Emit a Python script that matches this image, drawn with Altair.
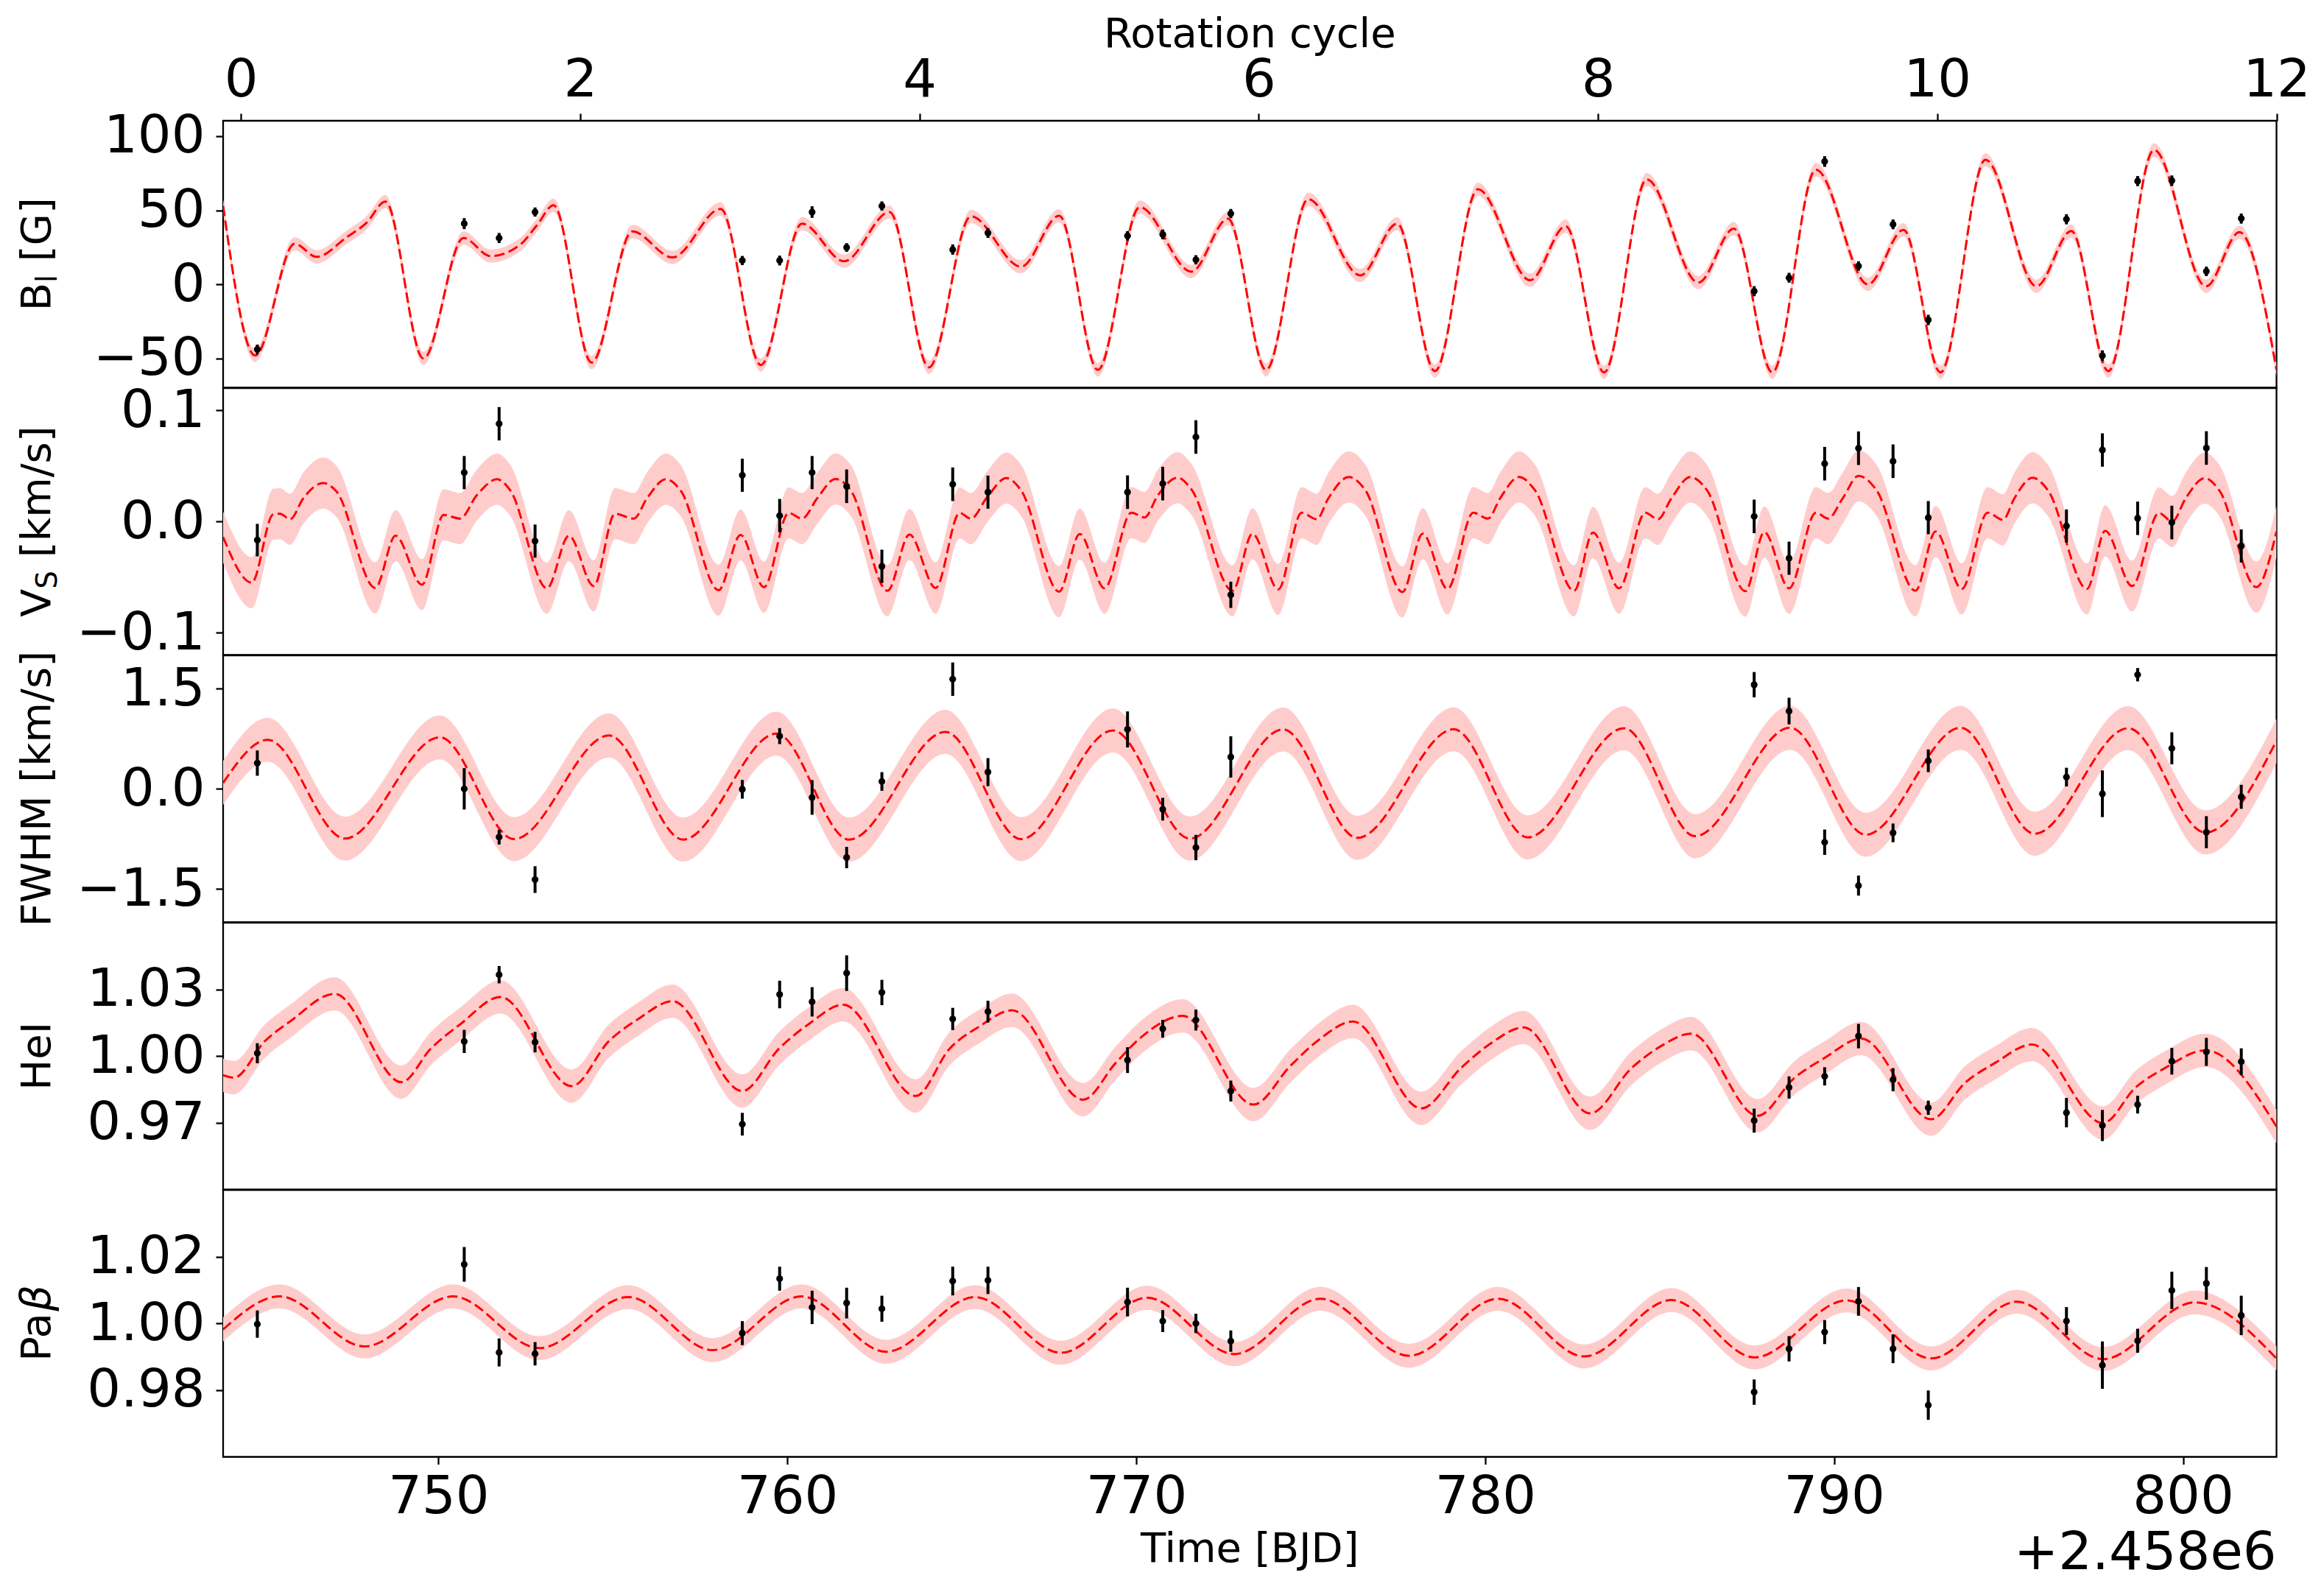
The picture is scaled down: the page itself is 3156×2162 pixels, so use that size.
import altair as alt
import pandas as pd

# ---------------- data ----------------
T_OBS = [744.81, 750.74, 751.74, 752.77, 758.71, 759.78, 760.71, 761.70, 762.71,
         764.74, 765.75, 769.75, 770.76, 771.71, 772.71, 787.71, 788.71, 789.73,
         790.70, 791.69, 792.70, 796.66, 797.69, 798.70, 799.68, 800.67, 801.67]

BL_VAL = [-43.9, 41.0, 31.3, 48.8, 16.1, 16.1, 48.8, 24.9, 52.9, 23.5, 34.7, 32.8, 33.7,
          16.6, 47.8, -4.6, 4.5, 82.9, 12.4, 40.5, -24.0, 43.9, -48.1, 69.7, 70.0, 8.8, 44.4]
BL_ERR = [3.3, 3.7, 3.4, 3.1, 3.1, 3.3, 3.9, 2.9, 3.1, 3.5, 3.3, 3.2, 3.3, 3.1, 3.1,
          3.4, 3.3, 3.6, 3.2, 3.3, 3.5, 3.4, 3.6, 3.4, 3.5, 3.2, 3.4]

VS_VAL = [-0.0167, 0.0440, 0.0879, -0.0176, 0.0416, 0.0053, 0.0440, 0.0317, -0.0403,
          0.0335, 0.0264, 0.0264, 0.0341, 0.0760, -0.0659, 0.0046, -0.0330, 0.0520,
          0.0659, 0.0542, 0.0035, -0.0040, 0.0643, 0.0029, -0.0009, 0.0661, -0.0220]
VS_ERR = [0.0146, 0.0149, 0.0150, 0.0149, 0.0149, 0.0150, 0.0149, 0.0151, 0.0150,
          0.0151, 0.0149, 0.0151, 0.0151, 0.0151, 0.0118, 0.0151, 0.0149, 0.0151,
          0.0151, 0.0151, 0.0149, 0.0149, 0.0150, 0.0150, 0.0151, 0.0151, 0.0149]

FW_VAL = [0.386, 0.0, -0.724, -1.36, -0.007, 0.79, -0.129, -1.03, 0.11, 1.643, 0.25,
          0.89, -0.305, -0.88, 0.478, 1.56, 1.165, -0.80, -1.45, -0.66, 0.42, 0.176,
          -0.074, 1.71, 0.607, -0.65, -0.12]
FW_ERR = [0.19, 0.31, 0.11, 0.20, 0.14, 0.12, 0.26, 0.16, 0.14, 0.25, 0.21, 0.27, 0.17,
          0.19, 0.31, 0.19, 0.20, 0.19, 0.15, 0.14, 0.17, 0.14, 0.35, 0.10, 0.24, 0.24, 0.18]

HE_VAL = [1.0013, 1.0066, 1.0366, 1.0063, 0.9694, 1.0277, 1.0244, 1.0373, 1.0286,
          1.0167, 1.0200, 0.9982, 1.0123, 1.0162, 0.9843, 0.9710, 0.9859, 0.9909,
          1.0090, 0.9894, 0.9768, 0.9746, 0.9688, 0.9782, 0.9977, 1.0019, 0.9975]
HE_ERR = [0.0045, 0.0052, 0.0039, 0.0046, 0.0051, 0.0062, 0.0066, 0.0080, 0.0057,
          0.0050, 0.0049, 0.0058, 0.0040, 0.0047, 0.0047, 0.0054, 0.0050, 0.0041,
          0.0055, 0.0052, 0.0032, 0.0066, 0.0070, 0.0040, 0.0060, 0.0063, 0.0060]

PB_VAL = [0.9998, 1.0177, 0.9913, 0.9909, 0.9971, 1.0134, 1.0048, 1.0061, 1.0044,
          1.0127, 1.0129, 1.0064, 1.0007, 1.0000, 0.9947, 0.9794, 0.9924, 0.9974,
          1.0066, 0.9924, 0.9755, 1.0007, 0.9875, 0.9948, 1.0099, 1.0120, 1.0024]
PB_ERR = [0.0041, 0.0052, 0.0042, 0.0035, 0.0036, 0.0036, 0.0050, 0.0046, 0.0039,
          0.0043, 0.0041, 0.0043, 0.0033, 0.0029, 0.0032, 0.0038, 0.0038, 0.0036,
          0.0043, 0.0043, 0.0044, 0.0042, 0.0071, 0.0036, 0.0056, 0.0049, 0.0059]

# model curves (read at extrema / shape points)
BL_CT = [743.83, 744.75, 745.88, 746.51, 747.37, 747.95, 748.48, 749.57, 750.72, 751.49,
         752.35, 752.83, 753.30, 754.39, 755.56, 756.71, 758.09, 759.24, 760.42, 761.63,
         762.93, 764.06, 765.26, 766.70, 767.79, 768.90, 770.10, 771.58, 772.63, 773.72,
         774.93, 776.42, 777.48, 778.56, 779.79, 781.29, 782.31, 783.41, 784.63, 786.11,
         787.13, 788.23, 789.48, 790.97, 791.99, 793.05, 794.34, 795.80, 796.80, 797.86,
         799.17, 800.66, 801.62, 802.68]
BL_CV = [53.0, -48.0, 27.4, 18.6, 31.8, 41.8, 55.9, -50.0, 31.3, 19.1,
         26.9, 40.1, 53.4, -52.7, 35.7, 18.2, 50.9, -54.4, 41.0, 15.6,
         48.8, -56.0, 45.9, 11.9, 46.3, -57.7, 52.1, 8.6, 44.3, -57.7,
         57.5, 6.1, 41.0, -58.5, 64.2, 2.8, 39.3, -59.4, 70.8, 1.2,
         37.6, -59.4, 77.4, 0.0, 36.8, -59.4, 84.1, -1.3, 36.0, -58.5,
         90.7, -1.3, 35.2, -57.7]

VS_CT = [743.83, 744.65, 745.27, 745.46, 745.75, 746.13, 746.70, 747.08, 748.19, 748.77,
         749.53, 750.15, 750.62, 751.10, 751.68, 752.06, 753.11, 753.74, 754.45, 755.06,
         755.60, 755.98, 756.52, 756.94, 758.03, 758.66, 759.33, 760.04, 760.42, 760.86,
         761.38, 761.82, 762.87, 763.50, 764.25, 764.94, 765.26, 765.74, 766.28, 766.70,
         767.79, 768.38, 769.09, 769.86, 770.24, 770.62, 771.19, 771.58, 772.76, 773.33,
         774.07, 774.74, 775.17, 775.51, 776.09, 776.57, 777.63, 778.21, 778.92, 779.66,
         780.08, 780.43, 780.97, 781.43, 782.55, 783.09, 783.84, 784.59, 784.95, 785.34,
         785.88, 786.36, 787.46, 788.00, 788.71, 789.48, 789.83, 790.25, 790.70, 791.22,
         792.33, 792.91, 793.66, 794.40, 794.84, 795.17, 795.69, 796.13, 797.25, 797.77,
         798.54, 799.31, 799.69, 800.08, 800.62, 801.04, 802.10, 802.68]
VS_CV = [-0.014, -0.055, 0.0066, 0.007, 0.002, 0.021, 0.0346, 0.027, -0.0597, -0.0128,
         -0.0568, 0.006, 0.0026, 0.0236, 0.038, 0.028, -0.060, -0.0128, -0.058, 0.007,
         0.0026, 0.021, 0.038, 0.028, -0.0617, -0.012, -0.059, 0.0077, 0.0026, 0.021,
         0.0383, 0.028, -0.0623, -0.0117, -0.0597, 0.0077, 0.0026, 0.0225, 0.039, 0.028,
         -0.063, -0.0112, -0.060, 0.008, 0.0037, 0.0236, 0.0394, 0.029, -0.0623, -0.011,
         -0.061, 0.008, 0.002, 0.021, 0.040, 0.028, -0.0634, -0.011, -0.0606, 0.008,
         0.0026, 0.021, 0.040, 0.028, -0.0623, -0.010, -0.060, 0.008, 0.002, 0.021,
         0.040, 0.028, -0.0626, -0.0095, -0.060, 0.008, 0.0026, 0.021, 0.041, 0.028,
         -0.0623, -0.009, -0.0606, 0.008, 0.0015, 0.021, 0.0394, 0.028, -0.0606, -0.0084,
         -0.058, 0.0077, 0.000, 0.021, 0.039, 0.028, -0.059, -0.009]

FW_CT = [743.83, 745.11, 747.32, 750.04, 752.17, 754.89, 757.01, 759.69, 761.77, 764.53,
         766.70, 769.33, 771.54, 774.21, 776.34, 779.10, 781.22, 783.98, 786.02, 788.74,
         790.91, 793.63, 795.75, 798.43, 800.64, 802.68]
FW_CV = [0.09, 0.735, -0.746, 0.772, -0.754, 0.80, -0.761, 0.827, -0.761, 0.853,
         -0.754, 0.875, -0.746, 0.89, -0.735, 0.893, -0.728, 0.908, -0.71, 0.915,
         -0.688, 0.915, -0.673, 0.908, -0.654, 0.72]

HE_CT = [743.83, 744.14, 745.03, 745.75, 747.03, 748.94, 749.79, 750.64, 751.78, 753.82,
         754.89, 755.73, 756.71, 758.71, 759.77, 760.62, 761.60, 763.68, 764.66, 765.51,
         766.44, 768.48, 769.41, 770.18, 771.33, 773.36, 774.43, 775.28, 776.21, 778.17,
         779.31, 780.16, 781.10, 783.01, 784.20, 785.05, 785.90, 787.81, 788.87, 789.72,
         790.78, 792.78, 793.76, 794.61, 795.67, 797.71, 798.64, 799.49, 800.64, 802.68]
HE_CV = [0.9914, 0.9903, 1.0068, 1.0156, 1.0280, 0.9883, 1.0035, 1.0145, 1.0266, 0.9865,
         1.0068, 1.0167, 1.0247, 0.9843, 1.0035, 1.0145, 1.0231, 0.9821, 1.0035, 1.0134,
         1.0206, 0.9804, 0.9969, 1.0090, 1.0181, 0.9782, 0.9958, 1.0079, 1.0156, 0.9765,
         0.9947, 1.0057, 1.0129, 0.9743, 0.9947, 1.0046, 1.0101, 0.9732, 0.9903, 0.9991,
         1.0079, 0.9716, 0.9881, 0.9969, 1.0052, 0.9699, 0.9859, 0.9947, 1.0026, 0.9683]

PB_CT = [743.83, 745.45, 747.88, 750.42, 752.89, 755.44, 757.86, 760.41, 762.83, 765.38,
         767.84, 770.31, 772.81, 775.28, 777.82, 780.37, 782.84, 785.34, 787.72, 790.36,
         792.78, 795.24, 797.71, 800.34, 802.68]
PB_CV = [0.9982, 1.0081, 0.9931, 1.0081, 0.9926, 1.0079, 0.9920, 1.0081, 0.9915, 1.0079,
         0.9912, 1.0077, 0.9908, 1.0074, 0.9903, 1.0074, 0.9901, 1.0070, 0.9898, 1.0069,
         0.9895, 1.0065, 0.9893, 1.0063, 0.9895]

BAND_HALF = [4.5, 0.023, 0.33, 0.0075, 0.0036]

X_DOMAIN = [743.83, 802.68]
X_TICKS = [750, 760, 770, 780, 790, 800]
CYC_DOMAIN = [-0.105, 12.0]
CYC_TICKS = [0, 2, 4, 6, 8, 10, 12]

Y_DOMAINS = [[-69.7, 110.4], [-0.12, 0.12], [-2.0, 2.0], [0.940, 1.060], [0.960, 1.040]]
Y_TICKS = [[-50, 0, 50, 100], [-0.1, 0.0, 0.1], [-1.5, 0.0, 1.5], [0.97, 1.00, 1.03],
           [0.98, 1.00, 1.02]]
Y_FORMATS = ["d", ".1f", ".1f", ".2f", ".2f"]

# ---------------- layout constants ----------------
W = 2788.5
H = 362.5
FONT = "DejaVu Sans"
TICK_FS = 72
TITLE_FS = 56
SUB_FS = 39
TX = -235.5       # baseline of the y titles
SUBX = -226.0     # baseline of subscripts

one = pd.DataFrame({"k": [0]})


def txt(s, x, y, size=TITLE_FS, angle=270, align="left", style="normal"):
    return alt.Chart(one).mark_text(
        text=s, font=FONT, fontSize=size, angle=angle, align=align,
        baseline="alphabetic", color="black", fontStyle=style
    ).encode(x=alt.value(x), y=alt.value(y))


def panel(i, ct, cv, ov, oe, titles, bottom=False, top=False):
    cdf = pd.DataFrame({"t": ct, "v": cv})
    cdf["lo"] = cdf["v"] - BAND_HALF[i]
    cdf["hi"] = cdf["v"] + BAND_HALF[i]
    odf = pd.DataFrame({"t": T_OBS, "v": ov, "e": oe})
    odf["lo"] = odf["v"] - odf["e"]
    odf["hi"] = odf["v"] + odf["e"]

    if bottom:
        xax = alt.Axis(values=X_TICKS, format="d", title=None, orient="bottom",
                       labelPadding=8.8, labelFlush=False, labelOverlap=False)
    else:
        xax = None
    xs = alt.Scale(domain=X_DOMAIN, nice=False, zero=False)
    ys = alt.Scale(domain=Y_DOMAINS[i], nice=False, zero=False)
    yax = alt.Axis(values=Y_TICKS[i], format=Y_FORMATS[i], title=None,
                   labelPadding=15, labelFlush=False, labelOverlap=False)

    def X(f):
        return alt.X(f, type="quantitative", scale=xs, axis=xax)

    def Y(f):
        return alt.Y(f, type="quantitative", scale=ys, axis=yax)

    band = alt.Chart(cdf).mark_area(color="#ffcccc", interpolate="monotone",
                                    clip=True).encode(x=X("t"), y=Y("lo"), y2="hi")
    line = alt.Chart(cdf).mark_line(color="#ff0000", strokeDash=[14, 6], strokeWidth=3,
                                    interpolate="monotone", clip=True).encode(
        x=X("t"), y=Y("v"))
    err = alt.Chart(odf).mark_rule(color="black", strokeWidth=4).encode(
        x=X("t"), y=Y("lo"), y2="hi")
    pts = alt.Chart(odf).mark_circle(color="black", size=85, opacity=1).encode(
        x=X("t"), y=Y("v"))

    layers = [band, line, err, pts] + titles
    if bottom:
        layers.append(txt("Time [BJD]", W / 2, 505, angle=0, align="center"))
        layers.append(txt("+2.458e6", W, 515, size=TICK_FS, angle=0, align="right"))
    if top:
        layers.append(txt("Rotation cycle", W / 2, -100.3, angle=0, align="center"))
        layers.append(alt.Chart(one).mark_rule(opacity=0, strokeWidth=0.5).encode(
            x=alt.value(-293.5), y=alt.value(-154), y2=alt.value(-120)))
    inner = alt.layer(*layers)
    if top:
        cyc = alt.Chart(pd.DataFrame({"c": CYC_TICKS})).mark_point(opacity=0).encode(
            x=alt.X("c:Q", scale=alt.Scale(domain=CYC_DOMAIN, nice=False, zero=False),
                    axis=alt.Axis(orient="top", values=CYC_TICKS, format="d", title=None,
                                  labelPadding=8.6, labelFlush=False,
                                  labelOverlap=False)))
        return alt.layer(inner, cyc).resolve_scale(x="independent").properties(
            width=W, height=H)
    return inner.properties(width=W, height=H)


c = H / 2
# y titles, built from pieces (subscripts / italic beta)
t1 = [txt("B", TX, c + 77.05), txt("l", SUBX, c + 77.05 - 38.4, size=SUB_FS),
      txt("[G]", TX, c + 77.05 - 38.4 - 10.8 - 17.8)]
t2 = [txt("V", TX, c + 129.8), txt("S", SUBX, c + 129.8 - 38.3, size=SUB_FS),
      txt("[km/s]", TX, c + 129.8 - 38.3 - 24.8 - 17.8)]
t3 = [txt("FWHM [km/s]", TX, c, align="center")]
t4 = [txt("HeI", TX, c, align="center")]
t5 = [txt("Pa", TX, c + 51.6), txt("β", TX, c + 51.6 - 68.1, style="italic")]

p1 = panel(0, BL_CT, BL_CV, BL_VAL, BL_ERR, t1, top=True)
p2 = panel(1, VS_CT, VS_CV, VS_VAL, VS_ERR, t2)
p3 = panel(2, FW_CT, FW_CV, FW_VAL, FW_ERR, t3)
p4 = panel(3, HE_CT, HE_CV, HE_VAL, HE_ERR, t4)
p5 = panel(4, PB_CT, PB_CV, PB_VAL, PB_ERR, t5, bottom=True)

chart = alt.vconcat(p1, p2, p3, p4, p5, spacing=0, bounds="flush").properties(
    padding=0, background="white"
).configure_view(
    stroke="black", strokeWidth=2.3
).configure_axis(
    labelFont=FONT, labelFontSize=TICK_FS, labelColor="black", tickColor="black",
    tickWidth=2.3, tickSize=10, domain=False, grid=False
)

chart.save("out.html", embed_options={"renderer": "svg", "actions": False})
